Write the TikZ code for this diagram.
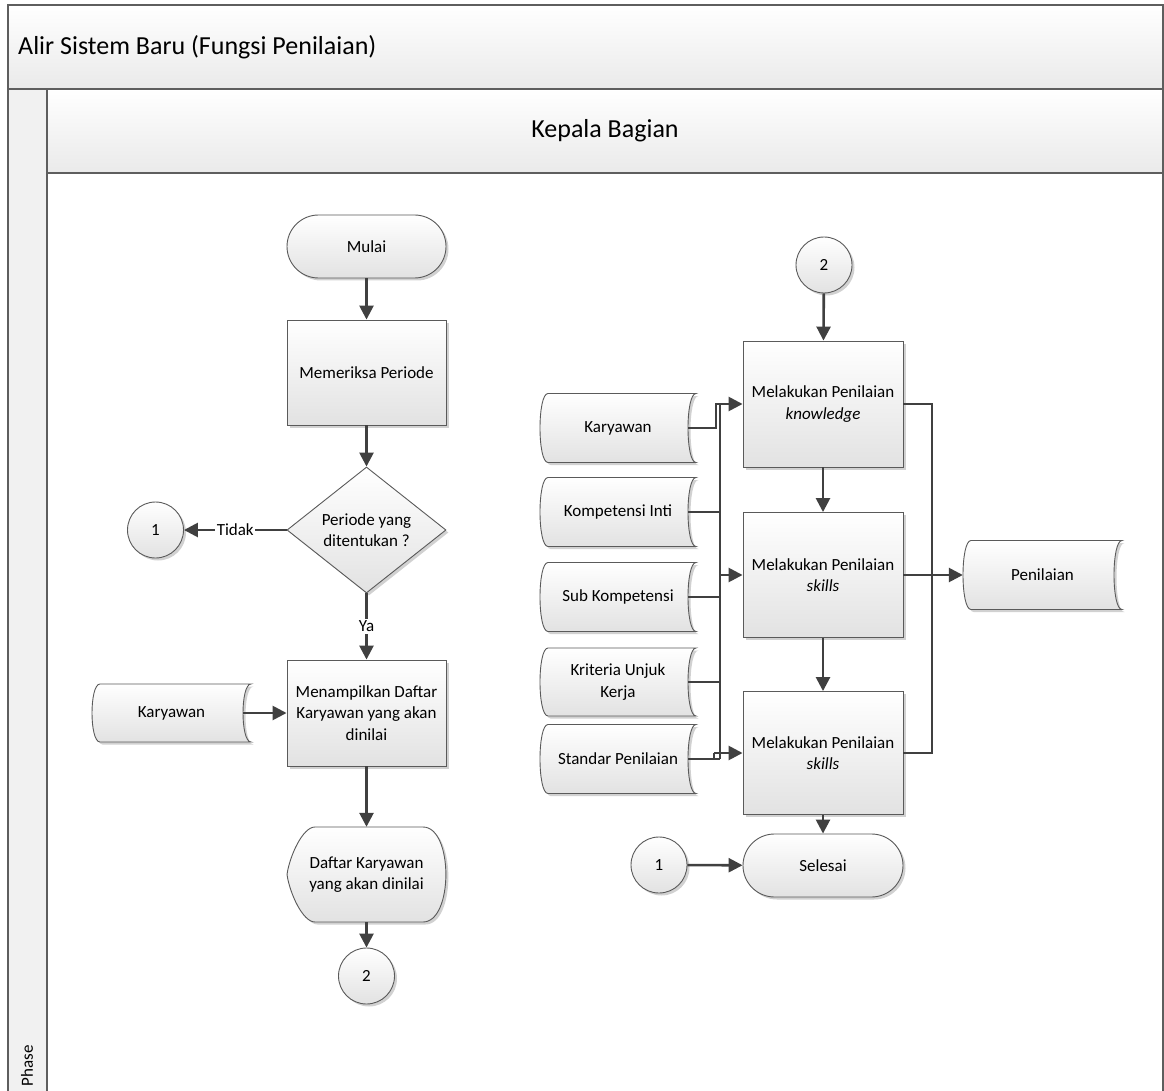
\documentclass[tikz,border=0pt]{standalone}
\usepackage{fontspec}
\setmainfont{Carlito}
\usetikzlibrary{shapes.geometric, arrows.meta, calc, shadows}

\definecolor{frameline}{HTML}{5E5E5E}
\definecolor{conn}{HTML}{404040}
\definecolor{edgeline}{HTML}{5A5A5A}
\definecolor{shadelo}{HTML}{E2E2E2}
\definecolor{bandlo}{HTML}{EAEAEA}
\definecolor{phasefill}{HTML}{F1F1F1}

\tikzset{
  txt/.style={font=\fontsize{17}{21.5}\selectfont, align=center, text=black},
  shapefill/.style={top color=white, bottom color=shadelo, draw=edgeline, line width=0.9pt},
  softshadow/.style={drop shadow={shadow xshift=2.5pt, shadow yshift=-2.5pt, opacity=0.18, fill=black}},
  procbox/.style={txt, shapefill, softshadow, rectangle, minimum width=159pt, inner sep=2pt},
  termbox/.style={txt, shapefill, softshadow, rectangle, rounded corners=31.5pt, minimum width=159pt, minimum height=63pt},
  connector/.style={txt, shapefill, softshadow, circle, minimum size=56pt, inner sep=0pt},
  decision/.style={txt, shapefill, softshadow, diamond, aspect=1.26, minimum width=159pt, minimum height=126pt, inner sep=0pt},
  band/.style={top color=white, bottom color=bandlo, draw=frameline, line width=1.3pt},
  lanebody/.style={fill=white, draw=frameline, line width=1.3pt},
  phasecol/.style={fill=phasefill, draw=frameline, line width=1.3pt},
  wire/.style={draw=conn, line width=2.6pt},
  flow/.style={wire, -{Triangle[length=14pt, width=14pt]}},
  lbl/.style={txt, fill=white, inner sep=1.5pt},
}

% stored-data symbol: name, x, y, width, height, text
\newcommand\storeddata[6]{%
  \begin{scope}[shift={(#2,#3)}]
    \pgfmathsetmacro\hw{#4/2}\pgfmathsetmacro\hh{#5/2}
    \fill[black, opacity=0.18, transform canvas={shift={(2.5pt,-2.5pt)}}]
      ({-\hw+8},{-\hh}) -- ({\hw},{-\hh})
      .. controls ({\hw-10.67},{-\hh}) and ({\hw-10.67},{\hh}) .. ({\hw},{\hh})
      -- ({-\hw+8},{\hh})
      .. controls ({-\hw-2.67},{\hh}) and ({-\hw-2.67},{-\hh}) .. ({-\hw+8},{-\hh}) -- cycle;
    \path[shapefill]
      ({-\hw+8},{-\hh}) -- ({\hw},{-\hh})
      .. controls ({\hw-10.67},{-\hh}) and ({\hw-10.67},{\hh}) .. ({\hw},{\hh})
      -- ({-\hw+8},{\hh})
      .. controls ({-\hw-2.67},{\hh}) and ({-\hw-2.67},{-\hh}) .. ({-\hw+8},{-\hh}) -- cycle;
    \node[txt, minimum width=#4pt, minimum height=#5pt, inner sep=0pt] (#1) at (0,0) {#6};
  \end{scope}}

% display symbol: name, x, y, text (159 x 95)
\newcommand\displaybox[4]{%
  \begin{scope}[shift={(#2,#3)}]
    \fill[black, opacity=0.18, transform canvas={shift={(2.5pt,-2.5pt)}}]
      (-51.5,-47.5) -- (56.5,-47.5)
      .. controls (87,-47.5) and (87,47.5) .. (56.5,47.5)
      -- (-51.5,47.5)
      .. controls (-64,47.5) and (-77,18) .. (-79.5,0)
      .. controls (-77,-18) and (-64,-47.5) .. (-51.5,-47.5) -- cycle;
    \path[shapefill]
      (-51.5,-47.5) -- (56.5,-47.5)
      .. controls (87,-47.5) and (87,47.5) .. (56.5,47.5)
      -- (-51.5,47.5)
      .. controls (-64,47.5) and (-77,18) .. (-79.5,0)
      .. controls (-77,-18) and (-64,-47.5) .. (-51.5,-47.5) -- cycle;
    \node[txt, minimum width=159pt, minimum height=95pt, inner sep=0pt] (#1) at (0,0) {#4};
  \end{scope}}

\begin{document}
\begin{tikzpicture}[x=1pt, y=-1pt]
  \useasboundingbox (0,0) rectangle (1164,1091);
  \fill[white] (0,0) rectangle (1164,1091);

  % pool frame, lane header and phase column
  \draw[band] (8,5) rectangle (1163,89);
  \draw[phasecol] (8,89) rectangle (47,1100);
  \draw[band] (47,89) rectangle (1163,173);
  \draw[lanebody] (47,173) rectangle (1163,1100);
  \node[anchor=west, inner sep=0pt, font=\fontsize{26}{30}\selectfont] (title) at (18,47) {Alir Sistem Baru (Fungsi Penilaian)};
  \node[inner sep=0pt, font=\fontsize{26}{30}\selectfont] (lane) at (605,131) {Kepala Bagian};
  \node[txt, rotate=90, inner sep=0pt] (phase) at (27,1066) {Phase};

  % left column
  \node[termbox] (mulai) at (366.5,246.5) {Mulai};
  \node[procbox, minimum height=105pt] (periksa) at (366.5,372.5) {Memeriksa Periode};
  \node[decision] (cek) at (366.5,530) {Periode yang\\ditentukan ?};
  \node[connector] (c1a) at (155.5,530) {1};
  \node[procbox, minimum height=106pt] (tampil) at (366.5,713) {Menampilkan Daftar\\Karyawan yang akan\\dinilai};
  \storeddata{karL}{171.5}{713}{159}{58}{Karyawan}
  \displaybox{daftar}{366.5}{874.5}{Daftar Karyawan\\yang akan dinilai}
  \node[connector] (c2a) at (366.5,976) {2};

  % right column
  \node[connector] (c2b) at (824,265) {2};
  \node[procbox, minimum width=160pt, minimum height=126pt] (nilai1) at (823,404) {Melakukan Penilaian\\\textit{knowledge}};
  \node[procbox, minimum width=160pt, minimum height=125pt] (nilai2) at (823,575) {Melakukan Penilaian\\\textit{skills}};
  \node[procbox, minimum width=160pt, minimum height=123pt] (nilai3) at (823,753) {Melakukan Penilaian\\\textit{skills}};
  \node[termbox, minimum width=160pt] (selesai) at (823,865.5) {Selesai};
  \node[connector] (c1b) at (659,865) {1};

  \storeddata{s1}{618}{428}{156}{69}{Karyawan}
  \storeddata{s2}{618}{512}{156}{69}{Kompetensi Inti}
  \storeddata{s3}{618}{597}{156}{69}{Sub Kompetensi}
  \storeddata{s4}{618}{682}{156}{68}{Kriteria Unjuk\\Kerja}
  \storeddata{s5}{618}{759}{156}{69}{Standar Penilaian}
  \storeddata{pen}{1042.5}{575}{159}{69}{Penilaian}

  % bus and elbow points
  \coordinate (busT) at (720,404);
  \coordinate (busB) at (720,759);
  \coordinate (k1) at (716,404);
  \coordinate (k5) at (714,753);
  \coordinate (outT) at (932,404);
  \coordinate (outB) at (932,753);

  % flow of the left column
  \draw[flow] (mulai) -- (periksa);
  \draw[flow] (periksa) -- (cek);
  \draw[flow] (cek.west) -- node[lbl] {Tidak} (c1a.east);
  \draw[flow] (cek.south) -- node[lbl] {Ya} (tampil.north);
  \draw[flow] ([xshift=-8pt]karL.east) -- (karL.east -| tampil.west);
  \draw[flow] (tampil) -- (daftar);
  \draw[flow] (daftar) -- (c2a);

  % flow of the right column
  \draw[flow] (c2b) -- (nilai1);
  \draw[flow] (nilai1) -- (nilai2);
  \draw[flow] (nilai2) -- (nilai3);
  \draw[flow] (nilai3) -- (selesai);
  \draw[flow] (c1b) -- (selesai);

  % data inputs
  \draw[flow] ([xshift=-8pt]s1.east) -| (k1) -- (nilai1.west);
  \draw[wire] (busT) -- (busB);
  \draw[wire] ([xshift=-8pt]s2.east) -- (s2.east -| busT);
  \draw[wire] ([xshift=-8pt]s3.east) -- (s3.east -| busT);
  \draw[wire] ([xshift=-8pt]s4.east) -- (s4.east -| busT);
  \draw[flow] (nilai2.west -| busT) -- (nilai2.west);
  \draw[wire] ([xshift=-8pt]s5.east) -- (busB);
  \draw[wire] (k5) -- (k5 |- busB);
  \draw[flow] (k5) -- (nilai3.west);

  % results
  \draw[wire] (nilai1.east) -- (outT) -- (outB) -- (nilai3.east);
  \draw[flow] (nilai2.east) -- (pen.west);
\end{tikzpicture}
\end{document}
